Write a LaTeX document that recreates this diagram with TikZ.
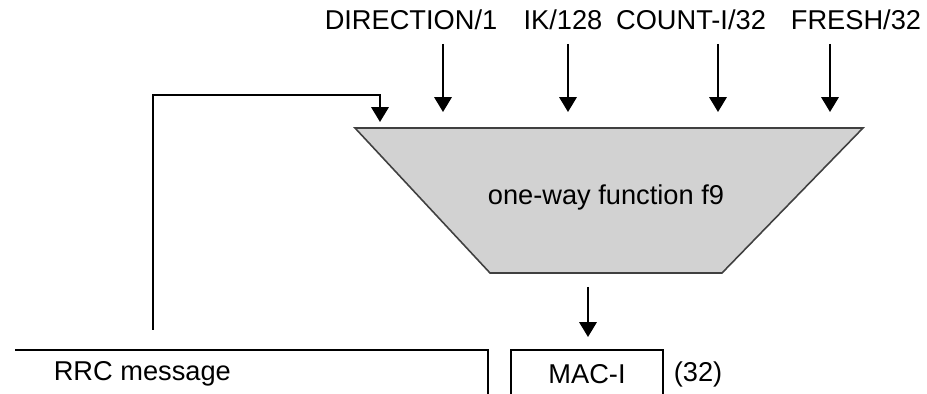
\documentclass[tikz,border=0pt]{standalone}
\usepackage{fontspec}
\setmainfont{Liberation Sans}
\usetikzlibrary{arrows.meta}

\begin{document}
\begin{tikzpicture}[x=0.02cm,y=-0.02cm,line width=0.9pt,
  lbl/.style={inner sep=0pt,font=\fontsize{15.5}{18}\selectfont},
  arr/.style={-{Triangle[width=10pt,length=8.5pt]}}]
\useasboundingbox (0,0) rectangle (927,394);

%% block
\draw[fill=gray!35,draw=black!75] (355,128) -- (863,128) -- (722,273) -- (490,273) -- cycle;
\node[lbl] (f9) at (606,197) {one-way function f9};

%% inputs
\node[lbl] (dir) at (411,20) {DIRECTION/1};
\node[lbl] (ik) at (563,20) {IK/128};
\node[lbl] (cnt) at (691,20) {COUNT-I/32};
\node[lbl] (fresh) at (856,20) {FRESH/32};
\coordinate (dirtop) at (443,44);
\coordinate (dirend) at (443,112);
\coordinate (iktop) at (568,44);
\coordinate (ikend) at (568,112);
\coordinate (cnttop) at (718,44);
\coordinate (cntend) at (718,112);
\coordinate (freshtop) at (830,44);
\coordinate (freshend) at (830,112);
\draw[arr] (dirtop) -- (dirend);
\draw[arr] (iktop) -- (ikend);
\draw[arr] (cnttop) -- (cntend);
\draw[arr] (freshtop) -- (freshend);

%% feedback of message
\coordinate (fbstart) at (153,330);
\coordinate (fbtop) at (153,95);
\coordinate (fbend) at (380,122);
\draw[arr] (fbstart) -- (fbtop) -| (fbend);

%% output
\coordinate (outtop) at (588,287);
\coordinate (outend) at (588,337);
\draw[arr] (outtop) -- (outend);

%% message fields
\draw (15,350) -- (488,350) -- (488,394);
\draw (511,394) -- (511,350) -- (663,350) -- (663,394);
\node[lbl,anchor=west] (rrc) at (53,374) {RRC message};
\node[lbl] (mac) at (587,374) {MAC-I};
\node[lbl,anchor=west] (len) at (673,374) {(32)};

\end{tikzpicture}
\end{document}
